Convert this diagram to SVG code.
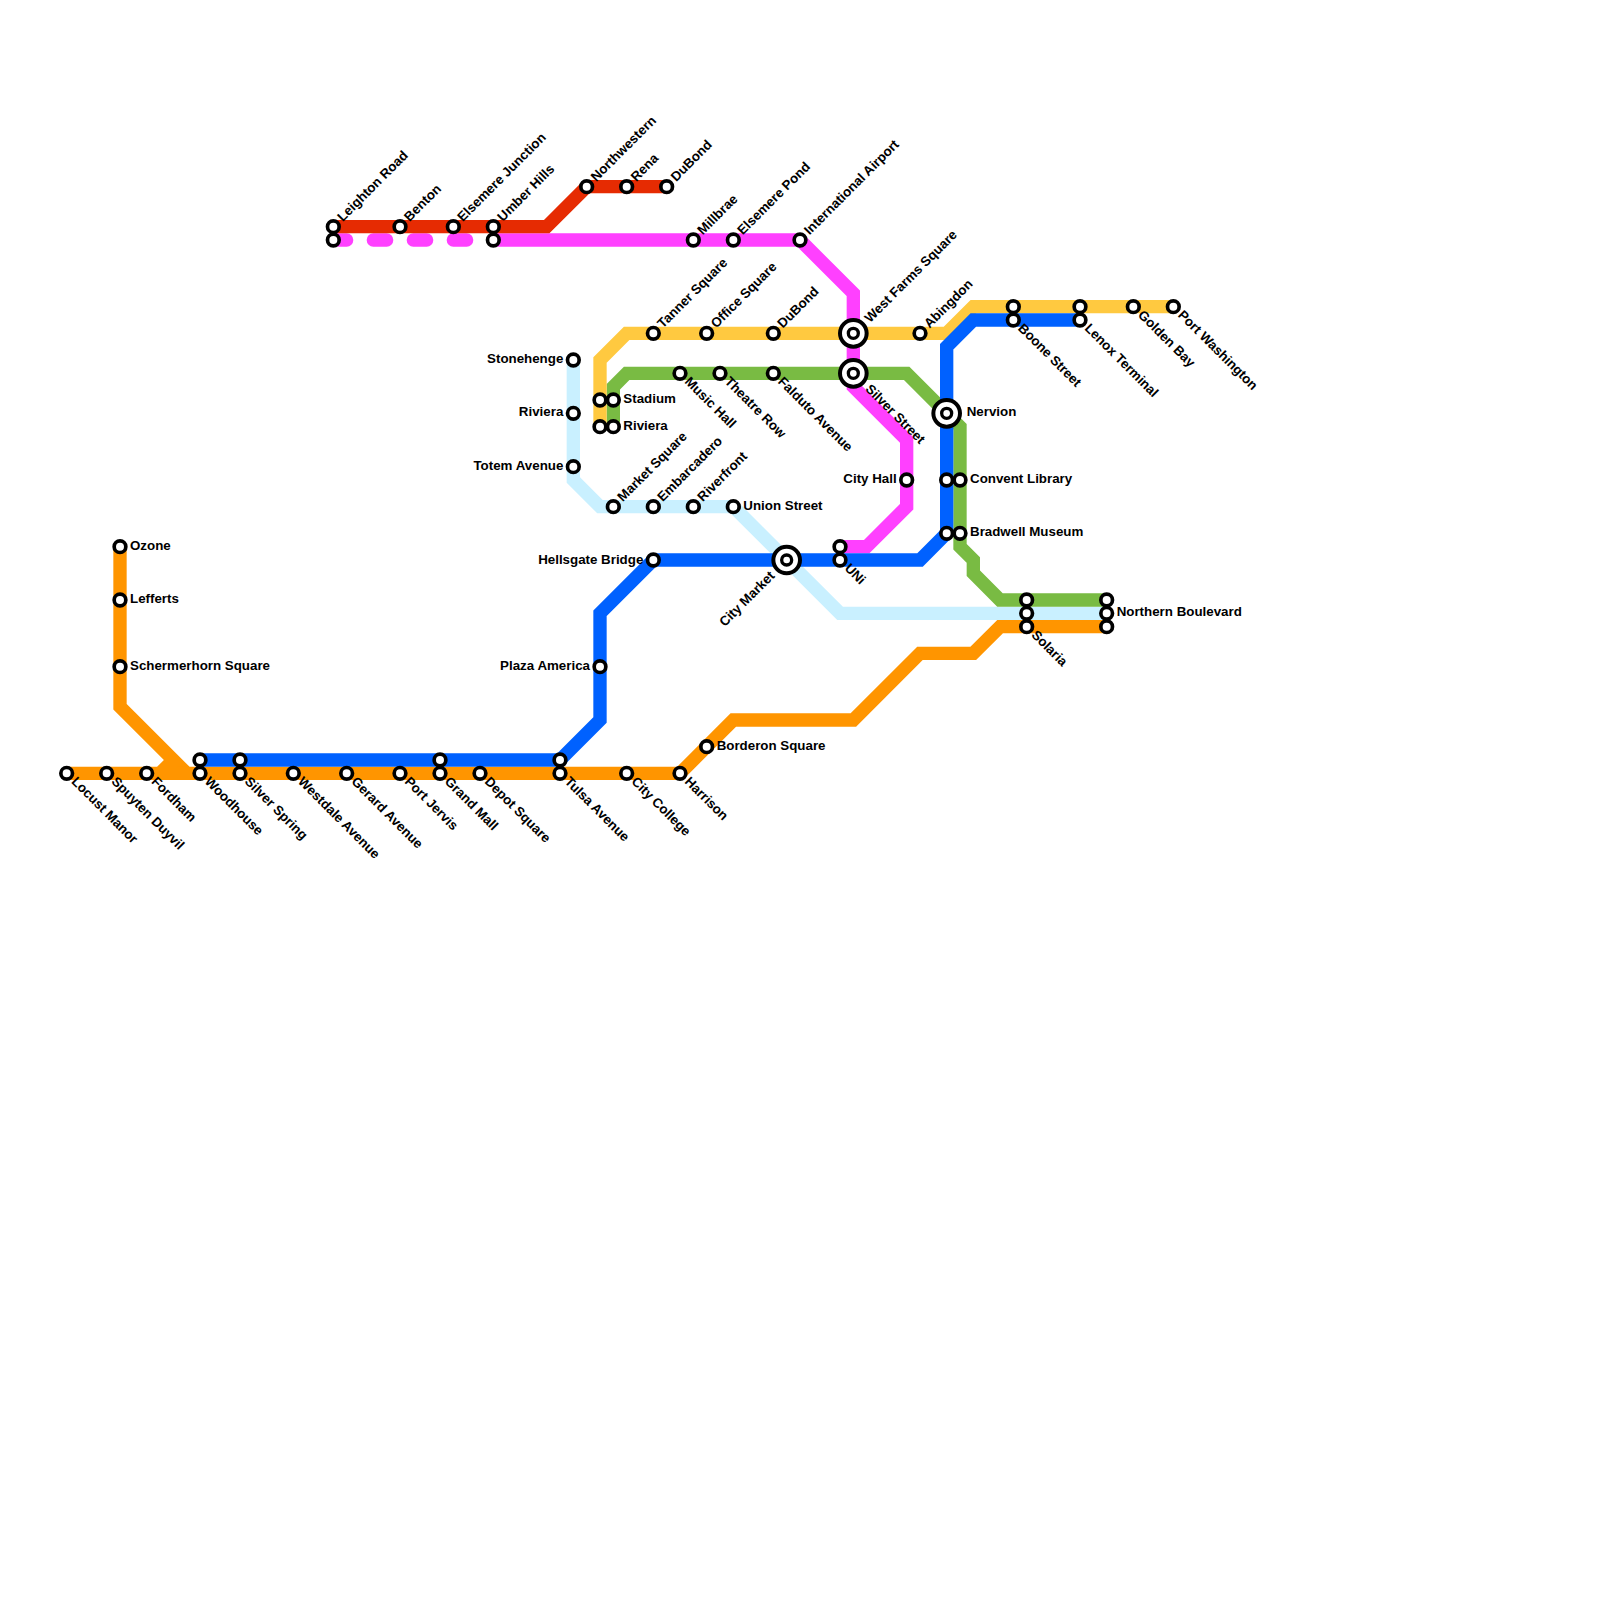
<svg xmlns="http://www.w3.org/2000/svg" width="1600" height="1600" viewBox="0 0 1600 1600">
<defs><style>
.l{fill:none;stroke-width:13.33;stroke-linejoin:miter}
.s{fill:#fff;stroke:#000;stroke-width:3.67}
.b{fill:#fff;stroke:#000;stroke-width:4}
.i{fill:#fff;stroke:#000;stroke-width:3.33}
text{font-family:"Liberation Sans",Arial,sans-serif;font-size:13.33px;font-weight:bold;fill:#000}
.e{text-anchor:end}
</style>
<circle id="st" class="s" r="5.83"/>
<g id="big"><circle class="b" r="13.33"/><circle class="i" r="5"/></g>
</defs>
<rect width="1600" height="1600" fill="#fff"/>
<g id="connectors">
<path class="l" stroke="#ff9500" d="M120 546.67V706.67L186.67 773.33H680L733.33 720H853.33L920 653.33H973.33L1000 626.67H1106.67"/>
<path class="l" stroke="#ff9500" d="M66.67 773.33H186.67M160 773.33L173.33 760"/>
<path class="l" stroke="#c9f0ff" d="M573.33 360V480L600 506.67H733.33L840 613.33H1106.67"/>
<path class="l" stroke="#79bb43" d="M613.33 426.67V386.67L626.67 373.33H906.67L960 426.67V546.67L973.33 560V573.33L1000 600H1106.67"/>
<path class="l" stroke="#ffc940" d="M600 426.67V360L626.67 333.33H946.67L973.33 306.67H1173.33"/>
<path class="l" stroke="#ff40ff" stroke-linecap="round" stroke-dasharray="13.33 26.67" d="M333.33 240H493.33"/>
<path class="l" stroke="#ff40ff" d="M493.33 240H800L853.33 293.33V386.67L906.67 440V506.67L866.67 546.67H840"/>
<path class="l" stroke="#e62b02" d="M333.33 226.67H546.67L586.67 186.67H666.67"/>
<path class="l" stroke="#0061ff" d="M200 760H560L600 720V613.33L653.33 560H920L946.67 533.33V346.67L973.33 320H1080"/>
</g>
<g id="n1"><use href="#st" x="333.33" y="226.67"/><text transform="translate(342.83 222.17) rotate(-45)">Leighton Road</text></g>
<g id="n2"><use href="#st" x="333.33" y="240"/></g>
<g id="n3"><use href="#st" x="400" y="226.67"/><text transform="translate(409.5 222.17) rotate(-45)">Benton</text></g>
<g id="n4"><use href="#st" x="453.33" y="226.67"/><text transform="translate(462.83 222.17) rotate(-45)">Elsemere Junction</text></g>
<g id="n5"><use href="#st" x="493.33" y="226.67"/><text transform="translate(502.83 222.17) rotate(-45)">Umber Hills</text></g>
<g id="n6"><use href="#st" x="493.33" y="240"/></g>
<g id="n7"><use href="#st" x="586.67" y="186.67"/><text transform="translate(596.17 182.17) rotate(-45)">Northwestern</text></g>
<g id="n8"><use href="#st" x="626.67" y="186.67"/><text transform="translate(636.17 182.17) rotate(-45)">Rena</text></g>
<g id="n9"><use href="#st" x="666.67" y="186.67"/><text transform="translate(676.17 182.17) rotate(-45)">DuBond</text></g>
<g id="n10"><use href="#st" x="693.33" y="240"/><text transform="translate(702.83 235.5) rotate(-45)">Millbrae</text></g>
<g id="n11"><use href="#st" x="733.33" y="240"/><text transform="translate(742.83 235.5) rotate(-45)">Elsemere Pond</text></g>
<g id="n12"><use href="#st" x="800" y="240"/><text transform="translate(809.5 235.5) rotate(-45)">International Airport</text></g>
<g id="n13"><use href="#st" x="653.33" y="333.33"/><text transform="translate(662.83 328.83) rotate(-45)">Tanner Square</text></g>
<g id="n14"><use href="#st" x="706.67" y="333.33"/><text transform="translate(716.17 328.83) rotate(-45)">Office Square</text></g>
<g id="n15"><use href="#st" x="773.33" y="333.33"/><text transform="translate(782.83 328.83) rotate(-45)">DuBond</text></g>
<g id="n16"><use href="#big" x="853.33" y="333.33"/><text transform="translate(870 323.33) rotate(-45)">West Farms Square</text></g>
<g id="n17"><use href="#st" x="920" y="333.33"/><text transform="translate(929.5 328.83) rotate(-45)">Abingdon</text></g>
<g id="n18"><use href="#st" x="1013.33" y="306.67"/></g>
<g id="n19"><use href="#st" x="1013.33" y="320"/><text transform="translate(1017.33 329) rotate(45)">Boone Street</text></g>
<g id="n20"><use href="#st" x="1080" y="306.67"/></g>
<g id="n21"><use href="#st" x="1080" y="320"/><text transform="translate(1084 329) rotate(45)">Lenox Terminal</text></g>
<g id="n22"><use href="#st" x="1133.33" y="306.67"/><text transform="translate(1137.33 315.67) rotate(45)">Golden Bay</text></g>
<g id="n23"><use href="#st" x="1173.33" y="306.67"/><text transform="translate(1177.33 315.67) rotate(45)">Port Washington</text></g>
<g id="n24"><use href="#st" x="573.33" y="360"/><text class="e" x="563.33" y="363.33">Stonehenge</text></g>
<g id="n25"><use href="#st" x="573.33" y="413.33"/><text class="e" x="563.33" y="416">Riviera</text></g>
<g id="n26"><use href="#st" x="573.33" y="466.67"/><text class="e" x="563.33" y="470">Totem Avenue</text></g>
<g id="n27"><use href="#st" x="600" y="400"/></g>
<g id="n28"><use href="#st" x="613.33" y="400"/><text x="623.33" y="403.33">Stadium</text></g>
<g id="n29"><use href="#st" x="600" y="426.67"/></g>
<g id="n30"><use href="#st" x="613.33" y="426.67"/><text x="623.33" y="430">Riviera</text></g>
<g id="n31"><use href="#st" x="680" y="373.33"/><text transform="translate(684 382.33) rotate(45)">Music Hall</text></g>
<g id="n32"><use href="#st" x="720" y="373.33"/><text transform="translate(724 382.33) rotate(45)">Theatre Row</text></g>
<g id="n33"><use href="#st" x="773.33" y="373.33"/><text transform="translate(777.33 382.33) rotate(45)">Falduto Avenue</text></g>
<g id="n34"><use href="#big" x="853.33" y="373.33"/><text transform="translate(864.7 389.7) rotate(45)">Silver Street</text></g>
<g id="n35"><use href="#big" x="946.67" y="413.33"/><text x="966.67" y="416">Nervion</text></g>
<g id="n36"><use href="#st" x="906.67" y="480"/><text class="e" x="896.67" y="483.33">City Hall</text></g>
<g id="n37"><use href="#st" x="946.67" y="480"/></g>
<g id="n38"><use href="#st" x="960" y="480"/><text x="970" y="483.33">Convent Library</text></g>
<g id="n39"><use href="#st" x="946.67" y="533.33"/></g>
<g id="n40"><use href="#st" x="960" y="533.33"/><text x="970" y="536">Bradwell Museum</text></g>
<g id="n41"><use href="#st" x="613.33" y="506.67"/><text transform="translate(622.83 502.17) rotate(-45)">Market Square</text></g>
<g id="n42"><use href="#st" x="653.33" y="506.67"/><text transform="translate(662.83 502.17) rotate(-45)">Embarcadero</text></g>
<g id="n43"><use href="#st" x="693.33" y="506.67"/><text transform="translate(702.83 502.17) rotate(-45)">Riverfront</text></g>
<g id="n44"><use href="#st" x="733.33" y="506.67"/><text x="743.33" y="510">Union Street</text></g>
<g id="n45"><use href="#st" x="653.33" y="560"/><text class="e" x="643.33" y="564">Hellsgate Bridge</text></g>
<g id="n46"><use href="#big" x="786.67" y="560"/><text class="e" transform="translate(775.5 576.5) rotate(-45)">City Market</text></g>
<g id="n47"><use href="#st" x="840" y="546.67"/></g>
<g id="n48"><use href="#st" x="840" y="560"/><text transform="translate(844 569) rotate(45)">UNi</text></g>
<g id="n49"><use href="#st" x="600" y="666.67"/><text class="e" x="590" y="670">Plaza America</text></g>
<g id="n50"><use href="#st" x="1026.67" y="600"/></g>
<g id="n51"><use href="#st" x="1026.67" y="613.33"/></g>
<g id="n52"><use href="#st" x="1026.67" y="626.67"/><text transform="translate(1030.67 635.67) rotate(45)">Solaria</text></g>
<g id="n53"><use href="#st" x="1106.67" y="600"/></g>
<g id="n54"><use href="#st" x="1106.67" y="613.33"/><text x="1116.67" y="616">Northern Boulevard</text></g>
<g id="n55"><use href="#st" x="1106.67" y="626.67"/></g>
<g id="n56"><use href="#st" x="120" y="546.67"/><text x="130" y="550">Ozone</text></g>
<g id="n57"><use href="#st" x="120" y="600"/><text x="130" y="603.33">Lefferts</text></g>
<g id="n58"><use href="#st" x="120" y="666.67"/><text x="130" y="670">Schermerhorn Square</text></g>
<g id="n59"><use href="#st" x="66.67" y="773.33"/><text transform="translate(70.67 782.33) rotate(45)">Locust Manor</text></g>
<g id="n60"><use href="#st" x="106.67" y="773.33"/><text transform="translate(110.67 782.33) rotate(45)">Spuyten Duyvil</text></g>
<g id="n61"><use href="#st" x="146.67" y="773.33"/><text transform="translate(150.67 782.33) rotate(45)">Fordham</text></g>
<g id="n62"><use href="#st" x="200" y="760"/></g>
<g id="n63"><use href="#st" x="200" y="773.33"/><text transform="translate(204 782.33) rotate(45)">Woodhouse</text></g>
<g id="n64"><use href="#st" x="240" y="760"/></g>
<g id="n65"><use href="#st" x="240" y="773.33"/><text transform="translate(244 782.33) rotate(45)">Silver Spring</text></g>
<g id="n66"><use href="#st" x="293.33" y="773.33"/><text transform="translate(297.33 782.33) rotate(45)">Westdale Avenue</text></g>
<g id="n67"><use href="#st" x="346.67" y="773.33"/><text transform="translate(350.67 782.33) rotate(45)">Gerard Avenue</text></g>
<g id="n68"><use href="#st" x="400" y="773.33"/><text transform="translate(404 782.33) rotate(45)">Port Jervis</text></g>
<g id="n69"><use href="#st" x="440" y="760"/></g>
<g id="n70"><use href="#st" x="440" y="773.33"/><text transform="translate(444 782.33) rotate(45)">Grand Mall</text></g>
<g id="n71"><use href="#st" x="480" y="773.33"/><text transform="translate(484 782.33) rotate(45)">Depot Square</text></g>
<g id="n72"><use href="#st" x="560" y="760"/></g>
<g id="n73"><use href="#st" x="560" y="773.33"/><text transform="translate(564 782.33) rotate(45)">Tulsa Avenue</text></g>
<g id="n74"><use href="#st" x="626.67" y="773.33"/><text transform="translate(630.67 782.33) rotate(45)">City College</text></g>
<g id="n75"><use href="#st" x="680" y="773.33"/><text transform="translate(684 782.33) rotate(45)">Harrison</text></g>
<g id="n76"><use href="#st" x="706.67" y="746.67"/><text x="716.67" y="750">Borderon Square</text></g>
</svg>
